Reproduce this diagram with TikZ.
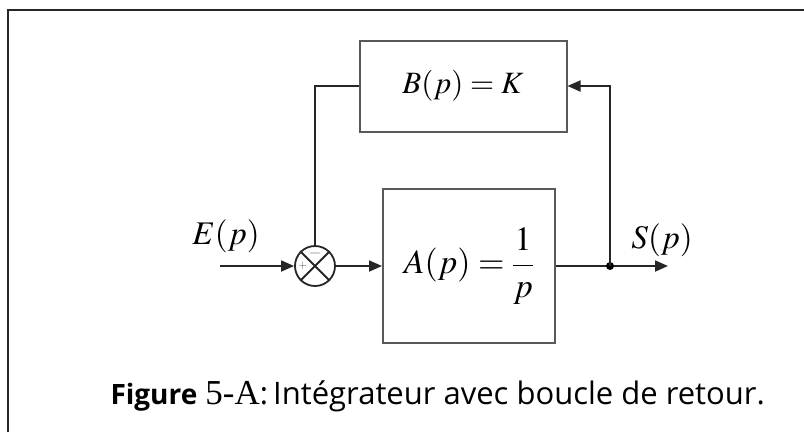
\documentclass[tikz,border=0pt]{standalone}
\usepackage{mathptmx}
\usepackage{fontspec}
\setsansfont{Open Sans}
\newfontfamily\timesfont{Liberation Serif}
\usetikzlibrary{positioning,arrows.meta}

\begin{document}
\begin{tikzpicture}[x=1pt, y=-1pt,
        >={Triangle[length=13pt, width=11pt]},
        bloc/.style={draw=black!65, line width=2pt, font=\fontsize{31}{36}\selectfont},
        lien/.style={draw=black!85, line width=1.8pt},
        somme/.style={circle, draw=black!85, line width=1.8pt, minimum size=40pt, inner sep=0pt},
        etiq/.style={font=\fontsize{33}{38}\selectfont}]
        \useasboundingbox (0, 0) rectangle (804, 432);

        % Marco
        \draw[line width=2.2pt, black!85] (8, 432) -- (8, 10) -- (804, 10);

        % Bloques
        \node[bloc, minimum width=207pt, minimum height=91pt] (B) at (463, 86) {$B(p) = K$};
        \node[bloc, minimum width=172pt, minimum height=154pt, font=\fontsize{34}{40}\selectfont] (A) at (469, 266) {$A(p) = \displaystyle\frac{1}{p}$};

        % Comparador
        \node[somme] (S) at (315, 266) {};
        \draw[lien] (S.north west) -- (S.south east) (S.north east) -- (S.south west);
        \node[font=\fontsize{16}{16}\selectfont, text=black!55, inner sep=0pt] (moins) at (315, 253) {$-$};
        \node[font=\fontsize{11}{11}\selectfont, text=black!70, inner sep=0pt] (plus) at (303, 266) {$+$};

        % Entrada y salida
        \coordinate (entree) at (220, 266);
        \coordinate (noeud) at (610, 266);
        \coordinate (sortie) at (668, 266);
        \node[etiq] (Ep) at (226, 236) {$E(p)$};
        \node[etiq] (Sp) at (662, 240) {$S(p)$};

        % Conexiones
        \draw[lien, ->] (entree) -- (S);
        \draw[lien, ->] (S) -- (A);
        \draw[lien] (A) -- (noeud);
        \draw[lien, ->] (noeud) -- (sortie);
        \fill (noeud) circle (4);

        % Bucle de retorno
        \draw[lien, ->] (noeud) |- (B.east);
        \draw[lien] (B.west) -| (S.north);

        % Leyenda
        \node[anchor=base east, inner sep=0pt, font=\fontsize{31}{36}\selectfont] (legende) at (765, 404)
            {\sffamily\bfseries{\fontsize{28}{34}\selectfont Figure} {\timesfont\mdseries\fontsize{35}{40}\selectfont 5-A}\mdseries:\,Intégrateur avec boucle de retour.};
\end{tikzpicture}
\end{document}
